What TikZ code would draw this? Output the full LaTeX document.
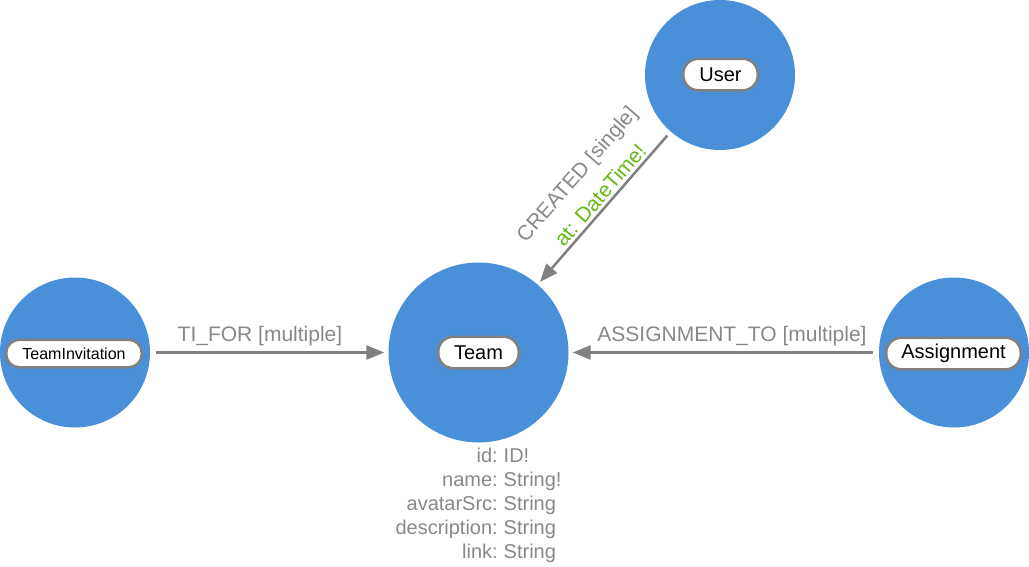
\documentclass[tikz,border=0pt]{standalone}
\usepackage{fontspec}
\setmainfont{Liberation Sans}
\usetikzlibrary{arrows.meta}
\definecolor{nodeblue}{HTML}{4A90D9}
\definecolor{edgegray}{HTML}{808080}
\definecolor{labelgray}{HTML}{888888}
\definecolor{attrgreen}{HTML}{66B814}
\begin{document}
\begin{tikzpicture}[x=1pt,y=-1pt,
  entity/.style={circle, fill=nodeblue, draw=none, inner sep=0pt},
  pill/.style={rectangle, rounded corners=15pt, draw=edgegray, line width=2.5pt, fill=white,
    text=black, inner sep=0pt, minimum height=31.5pt, font=\fontsize{20}{24}\selectfont},
  edge/.style={draw=edgegray, line width=2.5pt, -{Triangle[length=18pt,width=14pt]},
    shorten <=6pt, shorten >=4pt},
  elabel/.style={text=labelgray, inner sep=0pt, font=\fontsize{21}{25}\selectfont},
  attrname/.style={text=labelgray, inner sep=0pt, anchor=base east, font=\fontsize{20}{24}\selectfont},
  attrtype/.style={text=labelgray, inner sep=0pt, anchor=base west, font=\fontsize{20}{24}\selectfont}
]
\useasboundingbox (0,0) rectangle (1029,566);

% entities
\node[entity, minimum size=180pt] (team) at (478.5,352.5) {};
\node[entity, minimum size=150pt] (ti) at (75,352.5) {};
\node[entity, minimum size=150pt] (asg) at (954,352.5) {};
\node[entity, minimum size=150pt] (user) at (720,75) {};

% labels in pills
\node[pill, minimum width=80.5pt] (teamlbl) at (478.5,352.5) {Team};
\node[pill, minimum width=135.5pt, minimum height=27.5pt, rounded corners=13pt,
  font=\fontsize{16}{19}\selectfont] (tilbl) at (74,353.5) {TeamInvitation};
\node[pill, minimum width=134.5pt] (asglbl) at (953.5,353.5) {Assignment};
\node[pill, minimum width=74.5pt] (userlbl) at (720.5,74.5) {User};

% edges
\draw[edge] (ti) -- (team);
\draw[edge] (asg) -- (team);
\draw[edge, shorten <=5pt, shorten >=3.5pt] (user) -- (team);

% edge labels
\node[elabel, anchor=base] (tilab) at (260,341) {TI\_FOR [multiple]};
\node[elabel, anchor=base] (asglab) at (732,341) {ASSIGNMENT\_TO [multiple]};
\node[elabel, rotate=49] (crlab) at (578,175) {CREATED [single]};
\node[elabel, rotate=49, text=attrgreen] (crattr) at (600,195) {at: DateTime!};

% attributes of Team
\node[attrname] (a1n) at (498,462.5) {id:};
\node[attrtype] (a1t) at (503.5,462.5) {ID!};
\node[attrname] (a2n) at (498,486.5) {name:};
\node[attrtype] (a2t) at (503.5,486.5) {String!};
\node[attrname] (a3n) at (498,510.5) {avatarSrc:};
\node[attrtype] (a3t) at (503.5,510.5) {String};
\node[attrname] (a4n) at (498,534.5) {description:};
\node[attrtype] (a4t) at (503.5,534.5) {String};
\node[attrname] (a5n) at (498,558.5) {link:};
\node[attrtype] (a5t) at (503.5,558.5) {String};
\end{tikzpicture}
\end{document}
